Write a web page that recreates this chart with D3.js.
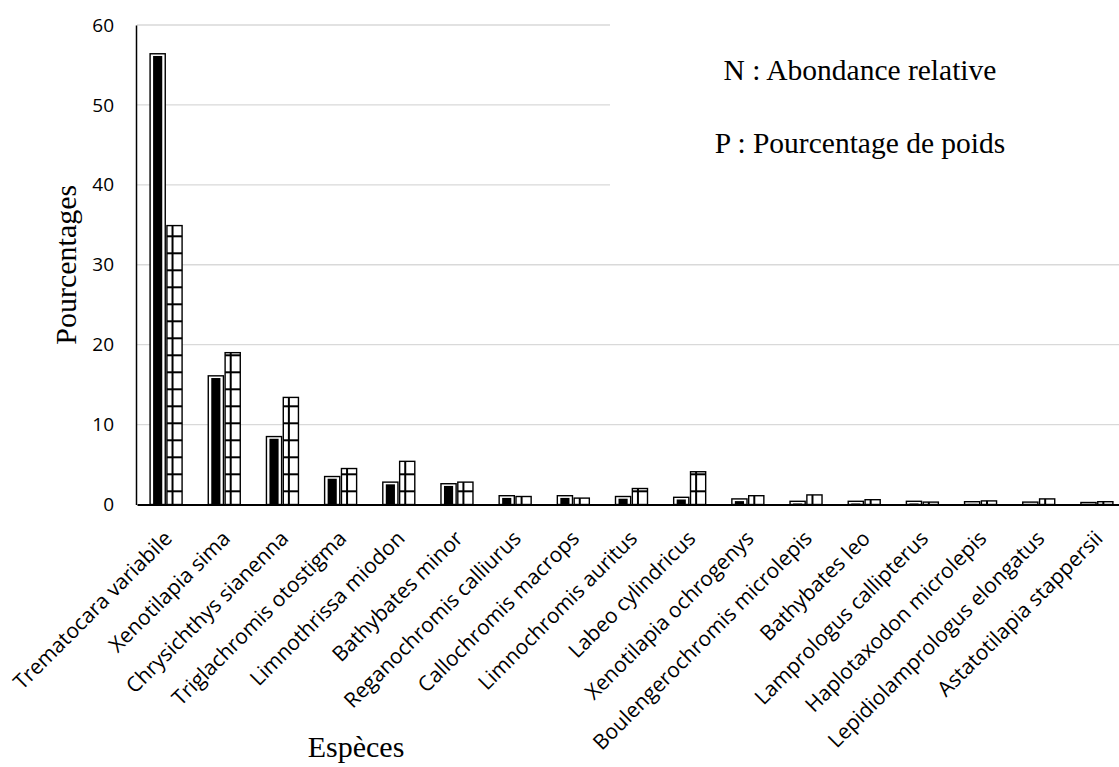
<!DOCTYPE html>
<html>
<head>
<meta charset="utf-8">
<script src="https://cdn.jsdelivr.net/npm/d3@7"></script>
<style>
  body { margin: 0; background: #fff; }
  svg { display: block; }
</style>
</head>
<body>
<div id="chart"></div>
<script>
// Species (x categories)
const species = [
    "Trematocara variabile", "Xenotilapia sima", "Chrysichthys sianenna",
    "Triglachromis otostigma", "Limnothrissa miodon", "Bathybates minor",
    "Reganochromis calliurus", "Callochromis macrops", "Limnochromis auritus",
    "Labeo cylindricus", "Xenotilapia ochrogenys", "Boulengerochromis microlepis",
    "Bathybates leo", "Lamprologus callipterus", "Haplotaxodon microlepis",
    "Lepidiolamprologus elongatus", "Astatotilapia stappersii"
];
// N : Abondance relative (%)
const valuesN = [56.4, 16.1, 8.5, 3.5, 2.8, 2.6, 1.1, 1.1, 1.0, 0.9, 0.7, 0.4, 0.4, 0.4, 0.35, 0.3, 0.25];
// P : Pourcentage de poids (%)
const valuesP = [34.9, 19.0, 13.4, 4.5, 5.4, 2.8, 1.0, 0.8, 2.0, 4.1, 1.1, 1.2, 0.6, 0.3, 0.45, 0.7, 0.35];
const yTicks = [0, 10, 20, 30, 40, 50, 60];
const legendLines = ["N : Abondance relative", "P : Pourcentage de poids"];

const W = 1119, H = 767;
const margin = {top: 25, left: 137, bottom: 263};
const plotRight = 1126;
const labelFont = "'Open Sans', Lato, sans-serif";
const serif = "'Liberation Serif', 'Times New Roman', serif";

const svg = d3.select("#chart").append("svg")
    .attr("width", W)
    .attr("height", H);

const x = d3.scaleBand()
    .domain(species)
    .range([margin.left, plotRight])
    .padding(0);
const xSub = d3.scaleBand()
    .domain(["N", "P"])
    .range([x.bandwidth() / 2 - 16, x.bandwidth() / 2 + 16])
    .paddingInner(0.1);
const y = d3.scaleLinear()
    .domain([0, 60])
    .range([H - margin.bottom + 0.5, margin.top]);

// Grid pattern for P bars (tiles in page space, like the office fill)
const defs = svg.append("defs");
const cell = 17;
const grid = defs.append("pattern")
    .attr("id", "gridP")
    .attr("patternUnits", "userSpaceOnUse")
    .attr("width", cell).attr("height", cell)
    .attr("x", x(species[0]) + xSub("P") + 3.6)
    .attr("y", y(0) - 14.2);
grid.append("rect").attr("width", cell).attr("height", cell).attr("fill", "#fff");
grid.append("rect").attr("width", 2).attr("height", cell).attr("fill", "#000");
grid.append("rect").attr("width", cell).attr("height", 2).attr("fill", "#000");

// Gridlines
svg.append("g")
    .selectAll("line")
    .data(yTicks.filter(d => d > 0))
    .enter().append("line")
    .attr("x1", margin.left)
    .attr("x2", W)
    .attr("y1", d => y(d))
    .attr("y2", d => y(d))
    .attr("stroke", "#d9d9d9")
    .attr("stroke-width", 1.3);

// Legend box hides the grid behind it
svg.append("rect")
    .attr("x", 610).attr("y", 12)
    .attr("width", W - 610).attr("height", 218)
    .attr("fill", "#fff");

svg.append("g")
    .selectAll("text")
    .data(legendLines)
    .enter().append("text")
    .attr("x", 860)
    .attr("y", (d, i) => 80 + i * 73)
    .attr("text-anchor", "middle")
    .attr("font-family", serif)
    .attr("font-size", "29.5px")
    .attr("fill", "#000")
    .text(d => d);

// Bars
const groups = svg.append("g")
    .selectAll("g")
    .data(species)
    .enter().append("g")
    .attr("transform", d => `translate(${x(d)},0)`);

// N bars: outlined, with thick dark vertical band
groups.append("rect")
    .attr("x", xSub("N"))
    .attr("y", (d, i) => y(valuesN[i]))
    .attr("width", xSub.bandwidth())
    .attr("height", (d, i) => y(0) - y(valuesN[i]))
    .attr("fill", "#fff")
    .attr("stroke", "#000")
    .attr("stroke-width", 1.4);
groups.append("rect")
    .attr("x", xSub("N") + 3)
    .attr("y", (d, i) => Math.min(y(valuesN[i]) + 2.2, y(0)))
    .attr("width", xSub.bandwidth() - 6)
    .attr("height", (d, i) => Math.max(0, y(0) - y(valuesN[i]) - 2.2))
    .attr("fill", "#000");

// P bars: large grid pattern
groups.append("rect")
    .attr("x", xSub("P"))
    .attr("y", (d, i) => y(valuesP[i]))
    .attr("width", xSub.bandwidth())
    .attr("height", (d, i) => y(0) - y(valuesP[i]))
    .attr("fill", "url(#gridP)")
    .attr("stroke", "#000")
    .attr("stroke-width", 1.4);

// Y axis
const yAxis = svg.append("g")
    .attr("transform", `translate(${margin.left - 1},0)`)
    .call(d3.axisLeft(y).tickValues(yTicks).tickSize(0).tickPadding(22));
yAxis.select(".domain").attr("stroke", "#000").attr("stroke-width", 1.5);
yAxis.selectAll("text")
    .attr("font-family", labelFont)
    .attr("font-size", "19px")
    .attr("fill", "#000");

// X axis
const xAxis = svg.append("g")
    .attr("transform", `translate(0,${y(0)})`)
    .call(d3.axisBottom(x).tickSize(0).tickSizeOuter(0));
xAxis.select(".domain").attr("stroke", "#000").attr("stroke-width", 2.2);
xAxis.selectAll("text")
    .attr("font-family", labelFont)
    .attr("font-size", "21px")
    .attr("fill", "#000")
    .attr("text-anchor", "end")
    .attr("y", 0)
    .attr("dy", "0.35em")
    .attr("transform", "translate(2,30) rotate(-45)");

// Axis titles
svg.append("text")
    .attr("transform", `translate(76,${(y(0) + y(60)) / 2}) rotate(-90)`)
    .attr("text-anchor", "middle")
    .attr("font-family", serif)
    .attr("font-size", "30px")
    .text("Pourcentages");
svg.append("text")
    .attr("x", 356)
    .attr("y", 757)
    .attr("text-anchor", "middle")
    .attr("font-family", serif)
    .attr("font-size", "30px")
    .text("Espèces");
</script>
</body>
</html>
